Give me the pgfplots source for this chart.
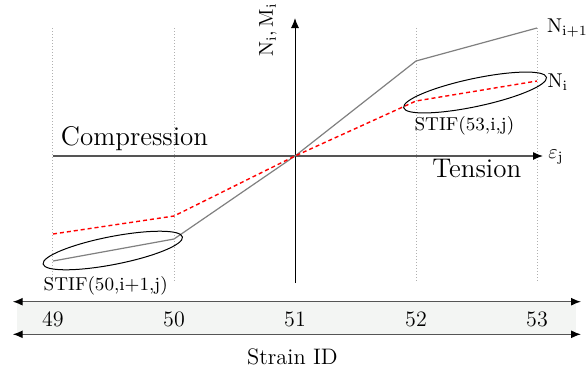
\documentclass[border=0pt]{standalone}
\usepackage{pgfplots}
\pgfplotsset{compat=1.18}
\usetikzlibrary{arrows.meta,shapes.geometric}
\definecolor{bandfill}{HTML}{F3F5F3}
\definecolor{axgray}{HTML}{555555}
\definecolor{linegray}{HTML}{808080}
\definecolor{dotgray}{HTML}{B0B0B0}
\begin{document}
\begin{tikzpicture}
\begin{axis}[
  x=60.5pt, y=0.5pt,
  xmin=48.562, xmax=53.405,
  ymin=-215, ymax=156,
  hide axis, clip=false,
]
\path (rel axis cs:0,0) rectangle (rel axis cs:1,1);
% dotted guide lines
\foreach \xx in {49,50,52,53}{
  \edef\tmp{\noexpand\draw[dotgray, dash pattern=on 0.5pt off 1pt, line width=0.5pt] (axis cs:\xx,128) -- (axis cs:\xx,-127);}
  \tmp
}
% axes
\draw[axgray, line width=0.7pt, -{Latex[length=5pt,width=4pt,black]}] (axis cs:49,0) -- (axis cs:53.05,0);
\draw[black, line width=0.5pt, -{Latex[length=5pt,width=4pt]}] (axis cs:51,-127) -- (axis cs:51,138);
% series
\addplot[linegray, line width=0.6pt, mark=none] coordinates {(49,-105) (50,-83) (51,0) (52,95) (53,128)};
\addplot[red, dash pattern=on 2pt off 1.5pt, line width=0.7pt, mark=none] coordinates {(49,-78) (50,-60) (51,0) (52,55) (53,75)};
% ellipses
\node[draw, ellipse, minimum width=73pt, minimum height=14pt, inner sep=0pt, rotate=12, line width=0.5pt] at (axis cs:52.488,63.5) {};
\node[draw, ellipse, minimum width=71pt, minimum height=14pt, inner sep=0pt, rotate=11, line width=0.5pt] at (axis cs:49.494,-94.5) {};
% texts
\node[anchor=base, inner sep=0pt, font=\fontsize{13.5}{15}\selectfont] at (axis cs:49.674,11) {Compression};
\node[anchor=base, inner sep=0pt, font=\fontsize{13.5}{15}\selectfont] at (axis cs:52.502,-21.3) {Tension};
\node[anchor=base west, inner sep=0pt, font=\fontsize{10}{12}\selectfont] at (axis cs:53.091,-2) {$\varepsilon_{\mathrm{j}}$};
\node[anchor=base west, inner sep=0pt, font=\fontsize{10}{12}\selectfont] at (axis cs:53.080,123.7) {$\mathrm{N_{i+1}}$};
\node[anchor=base west, inner sep=0pt, font=\fontsize{10}{12}\selectfont] at (axis cs:53.085,68.7) {$\mathrm{N_{i}}$};
\node[rotate=90, inner sep=0pt, font=\fontsize{10}{12}\selectfont] at (axis cs:50.777,126) {$\mathrm{N_i,M_i}$};
\node[anchor=base, inner sep=0pt, font=\fontsize{9.3}{11}\selectfont] at (axis cs:52.40,25.3) {STIF(53,i,j)};
\node[anchor=base, inner sep=0pt, font=\fontsize{9.3}{11}\selectfont] at (axis cs:49.436,-134.7) {STIF(50,i+1,j)};
% strain ID band
\fill[bandfill] (axis cs:48.702,-146) rectangle (axis cs:53.322,-178);
\draw[axgray, line width=0.7pt, {Latex[length=5pt,width=4pt,black]}-{Latex[length=5pt,width=4pt,black]}] (axis cs:48.667,-145.7) -- (axis cs:53.364,-145.7);
\draw[axgray, line width=0.7pt, {Latex[length=5pt,width=4pt,black]}-{Latex[length=5pt,width=4pt,black]}] (axis cs:48.667,-178.3) -- (axis cs:53.364,-178.3);
\foreach \xx in {49,50,51,52,53}{
  \edef\tmp{\noexpand\node[anchor=base, inner sep=0pt, font=\noexpand\fontsize{11}{13}\noexpand\selectfont] at (axis cs:\xx,-170) {\xx};}
  \tmp
}
\node[anchor=base, inner sep=0pt, font=\fontsize{11.2}{13}\selectfont] at (axis cs:50.979,-208) {Strain ID};
\end{axis}
\pgfresetboundingbox
\path (current axis.south west) rectangle (current axis.north east);
\end{tikzpicture}
\end{document}
